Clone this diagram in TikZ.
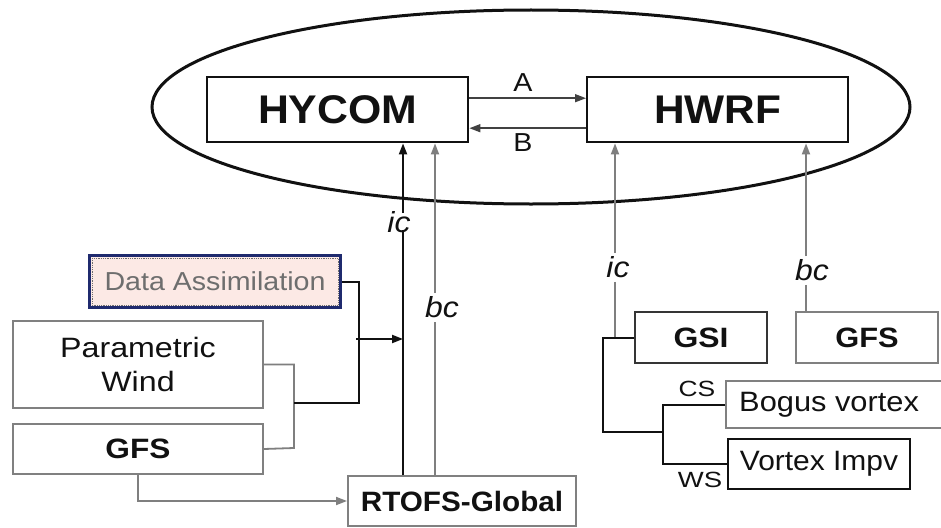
\documentclass[tikz,border=0pt]{standalone}
\usepackage{fontspec}
\setmainfont{Liberation Sans}
\usetikzlibrary{arrows.meta,shapes.geometric}
\definecolor{linegray}{HTML}{7F7F7F}
\definecolor{boxgray}{HTML}{808080}
\definecolor{navy}{HTML}{1F2A6E}
\definecolor{pinkfill}{HTML}{FCE9E5}
\definecolor{dagray}{HTML}{6E6E6E}
\definecolor{ink}{HTML}{111111}
\newcommand\hs[2][1.12]{\scalebox{#1}[1]{#2}}
\newcommand\fs[1]{\fontsize{#1}{#1}\selectfont}
\tikzset{
  bx/.style={draw, inner sep=0pt, anchor=north west, text=ink},
  darkbox/.style={bx, draw=ink, line width=2.4pt},
  graybox/.style={bx, draw=boxgray, line width=2pt},
  lbl/.style={inner sep=1pt, text=ink},
  blk/.style={draw=ink, line width=2pt},
  gr/.style={draw=linegray, line width=1.8pt},
  thinblk/.style={draw=ink!80, line width=1.5pt},
  >={Triangle[length=11pt,width=8pt]}
}
\begin{document}
\begin{tikzpicture}[x=1pt,y=-1pt]
\useasboundingbox (0,0) rectangle (941,527);
\clip (0,0) rectangle (941,527);
\fill[white] (0,0) rectangle (941,527);

% ellipse
\node[draw=ink, ellipse, line width=3pt, minimum width=758pt, minimum height=194pt, inner sep=0pt] (ell) at (531,107) {};

% main boxes
\node[darkbox, minimum width=261pt, minimum height=65pt] (hycom) at (206,76) {\fs{40}\bfseries\hs[1.07]{HYCOM}};
\node[darkbox, minimum width=261pt, minimum height=65pt] (hwrf) at (586,76) {\fs{40}\bfseries\hs[1.06]{HWRF}};

% A / B
\draw[thinblk,->] ([yshift=11.5pt]hycom.east) -- ([yshift=11.5pt]hwrf.west);
\draw[thinblk,->] ([yshift=-18.5pt]hwrf.west) -- ([yshift=-18.5pt]hycom.east);
\node[lbl] (la) at (523,83) {\fs{26}\hs[1.1]{A}};
\node[lbl] (lb) at (523,143) {\fs{26}\hs[1.1]{B}};

% left boxes
\node[bx, draw=navy, line width=3pt, fill=pinkfill, minimum width=251pt, minimum height=52pt] (da) at (88,254) {\fs{26}\color{dagray}\hs[1.1]{Data Assimilation}};
\draw[dagray, densely dotted, line width=0.8pt] ([shift={(4pt,-4pt)}]da.north west) rectangle ([shift={(-4pt,4pt)}]da.south east);
\node[graybox, minimum width=250pt, minimum height=87pt, align=center] (pw) at (12,320) {\fs{28}\hs[1.15]{Parametric}\\[12pt]\fs{28}\hs[1.15]{Wind}};
\node[graybox, minimum width=250pt, minimum height=50pt] (gfsl) at (12,423) {\fs{28}\bfseries\hs[1.13]{GFS}};
\node[graybox, minimum width=228pt, minimum height=50pt] (rtofs) at (347,475) {\fs{28}\bfseries\hs[1.06]{RTOFS-Global}};

% right boxes
\node[bx, draw=ink!85, line width=2pt, minimum width=132pt, minimum height=51pt] (gsi) at (634,311) {\fs{28}\bfseries\hs[1.14]{GSI}};
\node[graybox, minimum width=142pt, minimum height=51pt] (gfsr) at (795,311) {\fs{28}\bfseries\hs[1.1]{GFS}};
\node[graybox, minimum width=240pt, minimum height=47pt] (bogus) at (725,380) {};
\node[anchor=west, inner sep=0pt, text=ink] (bogustxt) at ([xshift=14pt]bogus.west) {\fs{28}\hs[1.1]{Bogus vortex}};
\node[darkbox, line width=2pt, minimum width=182pt, minimum height=50pt] (vimp) at (727,438) {\fs{28}\hs[1.07]{Vortex Impv}};

% labels
\node[lbl] (ica) at (399,222) {\fs{29}\itshape\hs[1.1]{ic}};
\node[lbl] (bca) at (442,307) {\fs{29}\itshape\hs[1.1]{bc}};
\node[lbl] (icb) at (618,267) {\fs{29}\itshape\hs[1.1]{ic}};
\node[lbl] (bcb) at (812,270) {\fs{29}\itshape\hs[1.1]{bc}};
\node[lbl, anchor=south] (cs) at (697,398) {\fs{22}\hs[1.2]{CS}};
\node[lbl, anchor=north] (ws) at (700,471) {\fs{22}\hs[1.25]{WS}};

% x positions of vertical connectors
\coordinate (xa) at (403,0);
\coordinate (xb) at (435,0);
\coordinate (xc) at (615,0);
\coordinate (xd) at (806,0);

% HYCOM ic (black) and bc (gray)
\draw[blk] (rtofs.north -| xa) -- ([yshift=4pt]ica.south -| xa);
\draw[blk,->] ([yshift=-3pt]ica.north -| xa) -- (hycom.south -| xa);
\draw[gr] (rtofs.north -| xb) -- ([yshift=-3pt]bca.south -| xb);
\draw[gr,->] ([yshift=2pt]bca.north -| xb) -- (hycom.south -| xb);

% left feeders
\coordinate (j3) at (294,403);
\coordinate (b1) at (294,448);
\draw[gr] (pw.east) -| (b1) -- (gfsl.east);
\draw[blk] (da.east) -- ++(17,0) coordinate (k1) -- (k1 |- j3) -- (j3);
\coordinate (k2) at (356,339);
\draw[blk,->] (k2) -- (k2 -| xa);
\draw[gr,->] (gfsl.south) |- (rtofs.west);

% HWRF ic and bc
\draw[gr,->] ([yshift=2pt]icb.north -| xc) -- (hwrf.south -| xc);
\draw[gr] ([yshift=-3pt]icb.south -| xc) -- (xc |- gsi.west);
\draw[gr,->] ([yshift=2pt]bcb.north -| xd) -- (hwrf.south -| xd);
\draw[gr] ([yshift=-3pt]bcb.south -| xd) -- (gfsr.north -| xd);

% GSI / vortex tree
\coordinate (j1) at (603,432);
\coordinate (j2) at (663,432);
\draw[blk] (gsi.west) -| (j1) -- (j2);
\draw[blk] (bogus.west) -| (j2) |- (vimp.west);
\end{tikzpicture}
\end{document}
